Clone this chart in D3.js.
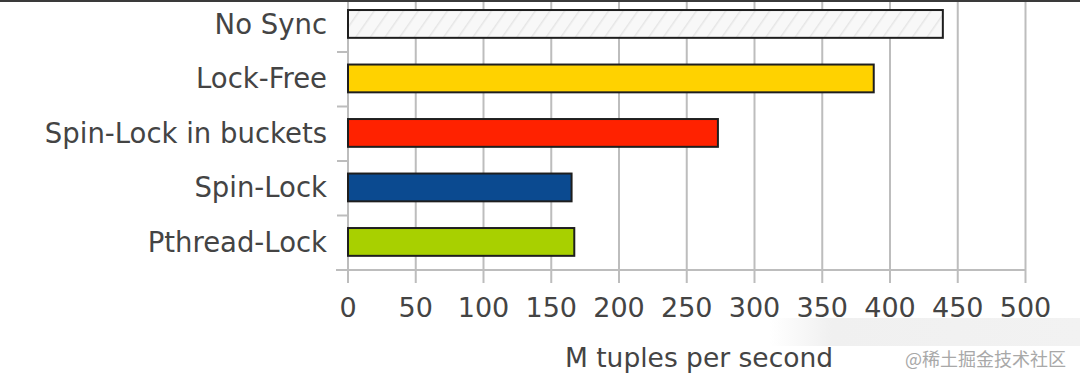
<!DOCTYPE html>
<html><head><meta charset="utf-8">
<script src="https://cdn.jsdelivr.net/npm/d3@7"></script>
<style>html,body{margin:0;padding:0;background:#fff;}svg{display:block;}</style>
</head><body>
<svg id="chart" width="1080" height="384"></svg>
<script>
const categories = ["No Sync","Lock-Free","Spin-Lock in buckets","Spin-Lock","Pthread-Lock"];
const values = [439, 388, 273, 165, 167];
const colors = ["url(#hatch)","#ffd200","#ff2200","#0b4a90","#a8d000"];
const xTicks = [0,50,100,150,200,250,300,350,400,450,500];
const axisTitle = "M tuples per second";
const watermark = "@稀土掘金技术社区";

const svg = d3.select("#chart");
const defs = svg.append("defs");
const pat = defs.append("pattern").attr("id","hatch").attr("patternUnits","userSpaceOnUse")
  .attr("width",12).attr("height",12).attr("patternTransform","rotate(35)");
pat.append("rect").attr("width",12).attr("height",12).attr("fill","#f8f8f8");
pat.append("line").attr("x1",0).attr("y1",0).attr("x2",0).attr("y2",12).attr("stroke","#e6e6e6").attr("stroke-width",3);
const grad = defs.append("linearGradient").attr("id","fade").attr("x1",0).attr("x2",1).attr("y1",0).attr("y2",0);
grad.append("stop").attr("offset","0").attr("stop-color","#f0f0f0").attr("stop-opacity",0);
grad.append("stop").attr("offset","0.2").attr("stop-color","#f0f0f0").attr("stop-opacity",1);
grad.append("stop").attr("offset","1").attr("stop-color","#f2f2f2").attr("stop-opacity",1);

const x = d3.scaleLinear().domain([0,500]).range([348,1025.5]);
const yb = d3.scaleBand().domain(categories).range([-2.5,270]).padding(0);

// faint background smudge behind watermark area
svg.append("rect").attr("x",770).attr("y",318).attr("width",310).attr("height",28).attr("fill","url(#fade)");

// top border
svg.append("rect").attr("x",0).attr("y",0).attr("width",1080).attr("height",2).attr("fill","#3a3a3a");

// grid lines
svg.append("g").selectAll("line").data(xTicks).join("line")
  .attr("x1",d=>x(d)).attr("x2",d=>x(d)).attr("y1",2).attr("y2",283)
  .attr("stroke","#bdbdbd").attr("stroke-width",2);

// left axis line and category ticks
svg.append("line").attr("x1",x(0)).attr("x2",x(0)).attr("y1",2).attr("y2",283).attr("stroke","#bdbdbd").attr("stroke-width",2);
svg.append("g").selectAll("line").data(categories.slice(1)).join("line")
  .attr("x1",337).attr("x2",x(0)).attr("y1",d=>yb(d)).attr("y2",d=>yb(d))
  .attr("stroke","#bdbdbd").attr("stroke-width",2);
// bottom axis line
svg.append("line").attr("x1",336).attr("x2",x(500)).attr("y1",270).attr("y2",270).attr("stroke","#bdbdbd").attr("stroke-width",2);

// bars
svg.append("g").selectAll("rect").data(categories).join("rect")
  .attr("x",x(0)).attr("y",d=>yb(d)+yb.bandwidth()*0.23)
  .attr("width",(d,i)=>x(values[i])-x(0)).attr("height",yb.bandwidth()*0.51)
  .attr("fill",(d,i)=>colors[i]).attr("stroke","#1e1e1e").attr("stroke-width",2);

// category labels
svg.append("g").selectAll("text").data(categories).join("text")
  .attr("x",327).attr("y",d=>yb(d)+yb.bandwidth()*0.48).attr("dy","0.36em")
  .attr("text-anchor","end").attr("font-family","DejaVu Sans").attr("font-size",27.5)
  .attr("fill","#444").text(d=>d);

// x tick labels
svg.append("g").selectAll("text").data(xTicks).join("text")
  .attr("x",d=>x(d)).attr("y",317).attr("text-anchor","middle")
  .attr("font-family","DejaVu Sans").attr("font-size",27).attr("fill","#444")
  .text(d=>d);

// axis title
svg.append("text").attr("x",699).attr("y",367).attr("text-anchor","middle")
  .attr("font-family","DejaVu Sans").attr("font-size",26.5).attr("fill","#444").text(axisTitle);

// watermark
svg.append("text").attr("x",905).attr("y",366).attr("font-family","Noto Sans CJK SC").attr("font-size",18)
  .attr("fill","#a8a8a8").text(watermark);
</script>
</body></html>
